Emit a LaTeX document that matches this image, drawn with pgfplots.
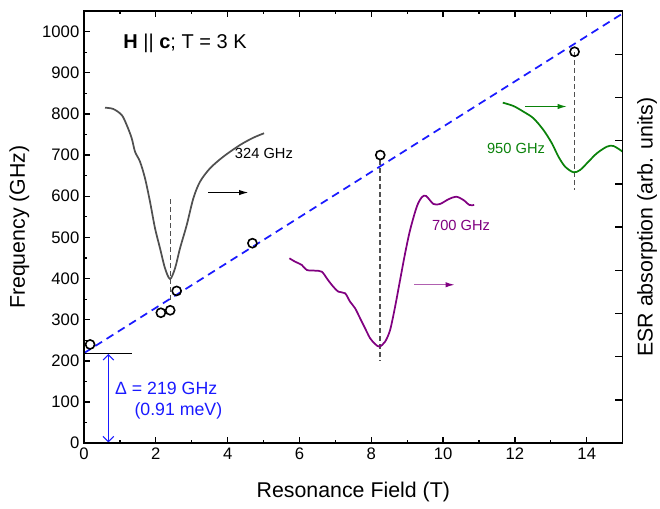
\documentclass[border=0pt]{standalone}
\usepackage{fontspec}
\setmainfont{Liberation Sans}
\usepackage{pgfplots}
\pgfplotsset{compat=1.18}
\usetikzlibrary{arrows.meta}
\definecolor{curvegray}{HTML}{505050}
\definecolor{esrpurple}{HTML}{800080}
\definecolor{esrgreen}{HTML}{0A820A}
\definecolor{fitblue}{HTML}{1A1AFF}
\definecolor{arrowpurple}{HTML}{B060B0}

\begin{document}
\begin{tikzpicture}
\path[use as bounding box] (-63pt,-49.3pt) rectangle (432pt,332.45pt);
\pgfplotsset{
  common/.style={scale only axis, width=404pt, height=324.2pt, at={(0,0)}, anchor=south west,
    xmin=0, xmax=15, tick align=inside,
    axis line style={line width=1.2pt},
    major tick style={line width=1pt, black}, minor tick style={line width=0.9pt, black},
    tick label style={font=\fontsize{12.5}{15}\selectfont},
    /pgf/number format/assume math mode=true, /pgf/number format/1000 sep={}},
}
\begin{axis}[common, name=main, ymin=0, ymax=1050,
  ytick pos=left, xtick pos=both,
  xtick={0,2,...,14}, minor x tick num=1,
  ytick={0,100,...,1000}, minor y tick num=1,
  major tick length=4.5pt, minor tick length=2.6pt,
  xlabel={Resonance Field (T)}, ylabel={Frequency (GHz)},
  xlabel style={at={(axis description cs:0.5,-0.0895)}, anchor=north, inner sep=0pt, font=\fontsize{16}{19}\selectfont},
  ylabel style={at={(axis description cs:-0.139,0.5)}, anchor=north, inner sep=0pt, font=\fontsize{16}{19}\selectfont}]
\addplot[fitblue, line width=1.3pt, dash pattern=on 6pt off 4pt] coordinates {(0,219) (15,1044)};
\addplot[black, line width=0.8pt] coordinates {(0,219) (1.35,219)};
\addplot[fitblue, line width=0.8pt, {Straight Barb[length=4pt]}-{Straight Barb[length=4pt]}] coordinates {(0.68,2) (0.68,217)};
\addplot[curvegray, line width=0.9pt, dash pattern=on 3.5pt off 2.5pt] coordinates {(2.40,348) (2.40,596)};
\addplot[curvegray, line width=0.9pt, dash pattern=on 3.5pt off 2.5pt] coordinates {(8.24,688) (8.24,202)};
\addplot[curvegray, line width=0.9pt, dash pattern=on 3.5pt off 2.5pt] coordinates {(13.66,950) (13.66,615)};
\addplot[black, line width=0.9pt, -{Latex[length=7pt,width=4pt]}] coordinates {(3.46,609) (4.58,609)};
\addplot[arrowpurple, line width=1.1pt, -{Latex[length=7pt,width=4pt,color=esrpurple]}] coordinates {(9.19,385) (10.33,385)};
\addplot[esrgreen, line width=1pt, -{Latex[length=7pt,width=4pt]}] coordinates {(12.28,818) (13.45,818)};
\addplot[only marks, mark=o, mark size=3.4pt, line width=1.2pt, black] coordinates {(0.17,240) (2.14,317) (2.40,323) (2.58,370) (4.69,486) (8.25,700) (13.66,951)};
\node[anchor=west, font=\fontsize{15}{18}\selectfont, inner sep=0pt] at (axis cs:1.09,972) {\textbf{H} || \textbf{c}; T = 3 K};
\node[font=\fontsize{11}{13}\selectfont] at (axis cs:5.01,703) {324 GHz};
\node[esrpurple, font=\fontsize{11}{13}\selectfont] at (axis cs:10.50,530) {700 GHz};
\node[esrgreen, font=\fontsize{11}{13}\selectfont] at (axis cs:12.03,716) {950 GHz};
\node[fitblue, anchor=west, font=\fontsize{13.3}{16}\selectfont, inner sep=0pt] at (axis cs:0.86,134) {Δ = 219 GHz};
\node[fitblue, anchor=west, font=\fontsize{13.3}{16}\selectfont, inner sep=0pt] at (axis cs:1.40,78.5) {(0.91 meV)};
\end{axis}
\begin{axis}[common, name=esr, ymin=0, ymax=10,
  xtick=\empty, ytick pos=right,
  ytick={1,...,9}, yticklabel=\empty, major tick length=5.5pt,
  ylabel={ESR absorption (arb. units)},
  ylabel style={at={(axis description cs:1.0265,0.5)}, anchor=north, inner sep=0pt, font=\fontsize{16}{19}\selectfont}]
\addplot[curvegray, line width=1.3pt, smooth] coordinates {
(0.585,7.763) (0.816,7.733) (1.050,7.594) (1.189,7.363) (1.329,7.055) (1.421,6.745)
(1.560,6.514) (1.699,6.130) (1.838,5.589) (1.978,4.973) (2.117,4.511) (2.256,4.048)
(2.396,3.801) (2.535,4.048) (2.674,4.511) (2.861,5.050) (3.045,5.667) (3.231,6.051)
(3.510,6.361) (3.880,6.630) (4.345,6.900) (4.716,7.069) (5.014,7.171)};
\addplot[esrpurple, line width=1.3pt, smooth] coordinates {
(5.719,4.279) (5.877,4.201) (6.064,4.125) (6.203,4.009) (6.435,3.993) (6.621,3.969)
(6.760,3.817) (6.900,3.662) (7.084,3.507) (7.270,3.470) (7.409,3.275) (7.549,3.123)
(7.688,2.892) (7.827,2.660) (7.967,2.429) (8.106,2.297) (8.226,2.235) (8.384,2.350)
(8.524,2.621) (8.663,3.160) (8.802,3.777) (8.942,4.395) (9.081,4.934) (9.267,5.473)
(9.407,5.691) (9.526,5.721) (9.730,5.536) (9.916,5.536) (10.148,5.644) (10.362,5.704)
(10.565,5.628) (10.733,5.512) (10.864,5.512)};
\addplot[esrgreen, line width=1.3pt, smooth] coordinates {
(11.663,7.879) (11.958,7.802) (12.237,7.671) (12.515,7.518) (12.794,7.247) (13.028,6.940)
(13.212,6.630) (13.398,6.398) (13.630,6.269) (13.816,6.322) (14.047,6.514) (14.281,6.708)
(14.560,6.861) (14.744,6.877) (15.0,6.745)};
\end{axis}
\draw[black, line width=1.2pt] (esr.south west) rectangle (esr.north east);
\end{tikzpicture}
\end{document}
